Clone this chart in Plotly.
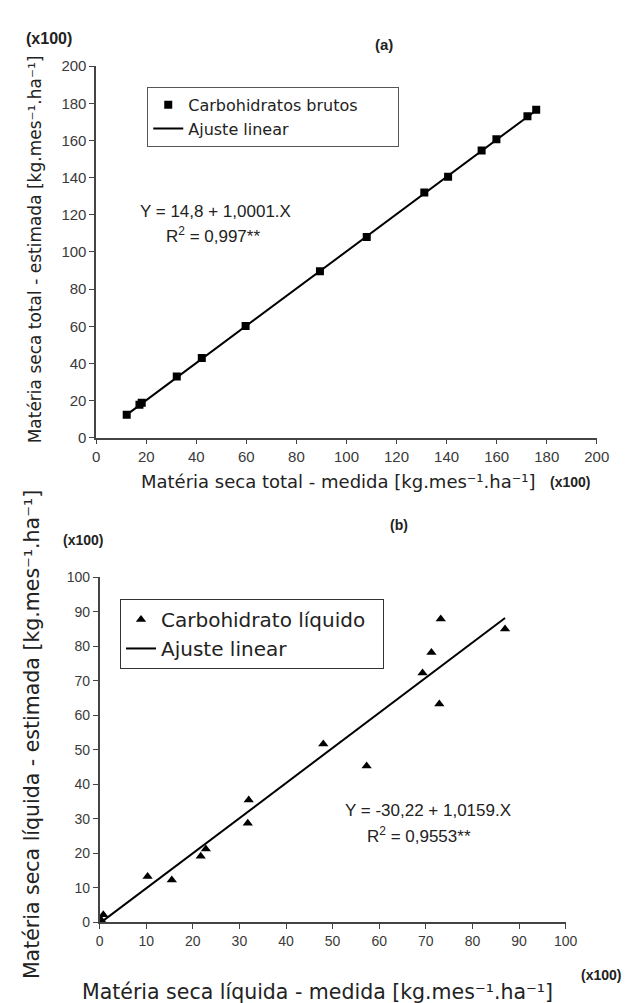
import plotly.graph_objects as go

W, H = 630, 1003

# ---------- data: panel (a) ----------
a_medida = [12.2, 17.3, 18.2, 32.2, 42.2, 59.7, 89.4, 108.1, 131.1, 140.6, 154.0, 159.9, 172.3, 175.8]
a_estimada = [12.4, 17.7, 18.9, 33.0, 42.9, 60.1, 89.6, 108.1, 132.0, 140.5, 154.6, 160.6, 173.1, 176.5]
a_fit_x = [12.0, 176.0]
a_fit_y = [12.2, 176.4]
a_ticks = [0, 20, 40, 60, 80, 100, 120, 140, 160, 180, 200]

# ---------- data: panel (b) ----------
b_medida = [0.3, 0.8, 10.3, 15.5, 21.7, 22.8, 31.8, 32.0, 48.0, 57.3, 69.3, 71.2, 72.9, 73.2, 87.0]
b_estimada = [0.8, 2.2, 13.3, 12.3, 19.2, 21.3, 28.7, 35.5, 51.7, 45.3, 72.3, 78.2, 63.3, 87.9, 85.0]
b_fit_x = [0.3, 87.0]
b_fit_y = [0.0, 88.2]
b_ticks = [0, 10, 20, 30, 40, 50, 60, 70, 80, 90, 100]


def px(x):
    return x / W


def py(y):
    return 1 - y / H


ARIAL = "Liberation Sans, Arial, sans-serif"
DEJAVU = "DejaVu Sans, sans-serif"
NBSP = "\u00a0"

fig = go.Figure()

# panel (a)
fig.add_trace(go.Scatter(x=a_medida, y=a_estimada, mode="markers",
                         name="Carbohidratos brutos" + NBSP * 7,
                         marker=dict(symbol="square", size=8, color="black"),
                         xaxis="x", yaxis="y", legend="legend"))
fig.add_trace(go.Scatter(x=a_fit_x, y=a_fit_y, mode="lines", name="Ajuste linear",
                         line=dict(color="black", width=2),
                         xaxis="x", yaxis="y", legend="legend"))
# panel (b)
fig.add_trace(go.Scatter(x=b_medida, y=b_estimada, mode="markers",
                         name="Carbohidrato líquido" + NBSP * 2,
                         marker=dict(symbol="triangle-up", size=9, color="black"),
                         xaxis="x2", yaxis="y2", legend="legend2"))
fig.add_trace(go.Scatter(x=b_fit_x, y=b_fit_y, mode="lines", name="Ajuste linear",
                         line=dict(color="black", width=2),
                         xaxis="x2", yaxis="y2", legend="legend2"))


def axis(fs):
    return dict(showgrid=False, zeroline=False, showline=True, linecolor="#444", linewidth=1.5,
                ticks="outside", ticklen=5, tickwidth=1.2, tickcolor="#444",
                tickfont=dict(family=ARIAL, size=fs, color="#3a3a3a"))


fig.update_layout(
    width=W, height=H,
    margin=dict(l=0, r=0, t=0, b=0),
    paper_bgcolor="white", plot_bgcolor="white",
    showlegend=True,
    xaxis=dict(domain=[px(86.5), px(601)], range=[0, 200], tickvals=a_ticks, anchor="y", **axis(15)),
    yaxis=dict(domain=[py(428), py(50)], range=[0, 200], tickvals=a_ticks, anchor="x", **axis(15)),
    xaxis2=dict(domain=[px(90), px(569)], range=[0, 100], tickvals=b_ticks, anchor="y2", **axis(14)),
    yaxis2=dict(domain=[py(921), py(570)], range=[0, 100], tickvals=b_ticks, anchor="x2", **axis(14)),
    legend=dict(x=px(139), y=py(71), xanchor="left", yanchor="top", bgcolor="white",
                bordercolor="#555", borderwidth=1, font=dict(family=DEJAVU, size=16, color="#222"),
                tracegroupgap=0),
    legend2=dict(x=px(111), y=py(592), xanchor="left", yanchor="top", bgcolor="white",
                 bordercolor="#333", borderwidth=1, font=dict(family=DEJAVU, size=20, color="#222"),
                 tracegroupgap=0),
)

ann = []


def text(x, y, t, size, family, angle=0, color="#222"):
    ann.append(dict(x=px(x), y=py(y), xref="paper", yref="paper", text=t, showarrow=False,
                    font=dict(family=family, size=size, color=color), textangle=angle,
                    xanchor="center", yanchor="middle"))


# panel (a) labels
text(38, 22, "<b>(x100)</b>", 16, ARIAL)
text(382, 28, "<b>(a)</b>", 15, ARIAL)
text(209, 198, "Y = 14,8 + 1,0001.X", 17, ARIAL)
text(207, 222, "R<sup>2</sup> = 0,997**", 17, ARIAL)
text(335, 472, "Matéria seca total - medida [kg.mes⁻¹.ha⁻¹]", 18, DEJAVU)
text(573, 473, "<b>(x100)</b>", 14, ARIAL)
text(24, 236, "Matéria seca total - estimada [kg.mes⁻¹.ha⁻¹]", 17, DEJAVU, angle=-90)

# panel (b) labels
text(398, 517, "<b>(b)</b>", 14, ARIAL)
text(73, 532, "<b>(x100)</b>", 14, ARIAL)
text(428, 807, "Y = -30,22 + 1,0159.X", 17, ARIAL)
text(418, 832, "R<sup>2</sup> = 0,9553**", 17, ARIAL)
text(605, 975, "<b>(x100)</b>", 14, ARIAL)
text(314, 992, "Matéria seca líquida - medida [kg.mes⁻¹.ha⁻¹]", 20.5, DEJAVU)
text(20, 730, "Matéria seca líquida - estimada [kg.mes⁻¹.ha⁻¹]", 20.5, DEJAVU, angle=-90)

fig.update_layout(annotations=ann)

fig.write_html("out.html")
